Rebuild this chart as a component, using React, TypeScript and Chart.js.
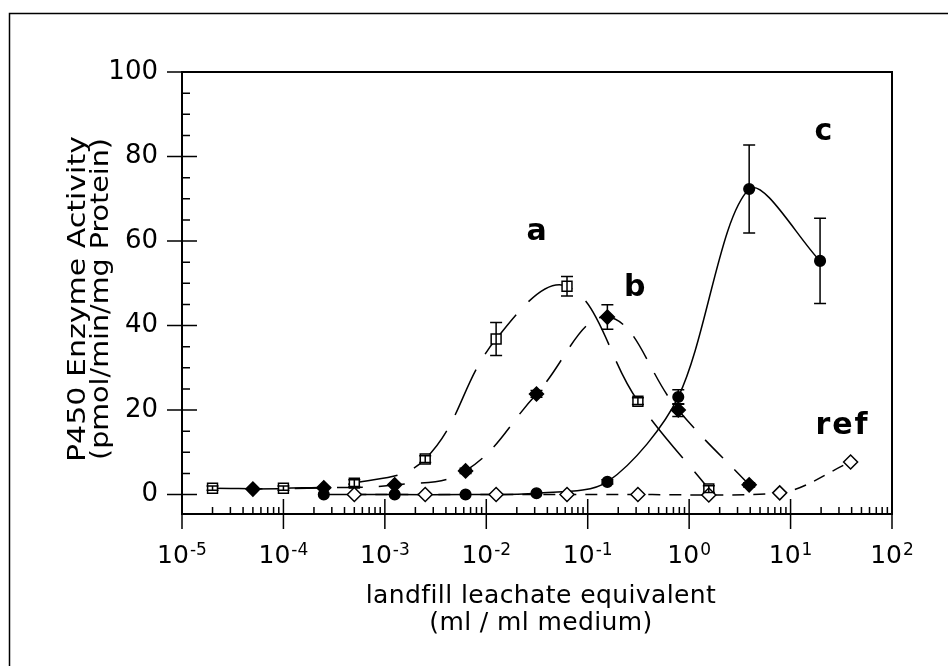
import React, { useEffect, useRef } from "react";
import { Chart, registerables } from "chart.js";

Chart.register(...registerables);

const FONT = "'DejaVu Sans', 'Liberation Sans', sans-serif";

// ---- data ----
const seriesNames = ["a", "b", "c", "ref"];

const aDose = [2e-5, 1e-4, 5e-4, 2.5e-3, 1.25e-2, 6.25e-2, 0.3125, 1.5625];
const aActivity = [1.5, 1.5, 2.7, 8.4, 36.8, 49.3, 22.1, 1.3];
const aError = [0.5, 0.5, 0.8, 0.8, 3.9, 2.3, 0.8, 0.8];

const bDose = [5e-5, 2.5e-4, 1.25e-3, 6.25e-3, 3.125e-2, 0.15625, 0.78125, 3.90625];
const bActivity = [1.3, 1.6, 2.3, 5.6, 23.8, 42.0, 20.0, 2.3];
const bError = [0, 0, 0, 0.6, 0.8, 2.9, 1.5, 0.5];

const cDose = [2.5e-4, 1.25e-3, 6.25e-3, 3.125e-2, 0.15625, 0.78125, 3.90625, 19.53125];
const cActivity = [0, 0, 0, 0.3, 3.0, 23.1, 72.3, 55.3];
const cError = [0, 0, 0, 0, 0.5, 1.7, 10.4, 10.1];

const refDose = [5e-4, 2.5e-3, 1.25e-2, 6.25e-2, 0.3125, 1.5625, 7.8125, 39.0625];
const refActivity = [0, 0, 0, 0, 0, -0.1, 0.4, 7.7];

// label anchors in data space (dose, activity)
const labelDose = [0.032, 0.297, 21.6, 32.5];
const labelActivity = [62.0, 48.9, 85.8, 16.2];

// ---- axes ----
const xTickValues = [1e-5, 1e-4, 1e-3, 1e-2, 1e-1, 1e0, 1e1, 1e2];
const xTickBase = "10";
const xTickExponents = ["-5", "-4", "-3", "-2", "-1", "0", "1", "2"];
const xMinorMultipliers = [2, 3, 4, 5, 6, 7, 8, 9];
const yTickValues = [0, 20, 40, 60, 80, 100];
const yMinorValues = [5, 10, 15, 25, 30, 35, 45, 50, 55, 65, 70, 75, 85, 90, 95];
const yTitleLines = ["P450 Enzyme Activity", "(pmol/min/mg Protein)"];
const xTitleLines = ["landfill leachate equivalent", "(ml / ml medium)"];

function toPoints(xs: number[], ys: number[]) {
  return xs.map((x, i) => ({ x, y: ys[i] }));
}

function setSpacing(ctx: any, v: string) {
  try {
    ctx.letterSpacing = v;
  } catch (e) {}
}

const axesPlugin = {
  id: "axesFrame",
  afterDraw(chart: any) {
    const { ctx, chartArea: ca, scales } = chart;
    const xs = scales.x;
    const ys = scales.y;
    ctx.save();
    ctx.strokeStyle = "#000";
    // outer frame
    ctx.lineWidth = 1.5;
    ctx.beginPath();
    ctx.moveTo(9.5, chart.height);
    ctx.lineTo(9.5, 13.5);
    ctx.lineTo(chart.width, 13.5);
    ctx.stroke();
    // plot box
    ctx.lineWidth = 2;
    ctx.strokeRect(ca.left, ca.top, ca.right - ca.left, ca.bottom - ca.top);
    // ticks
    ctx.lineWidth = 1.5;
    ctx.beginPath();
    yMinorValues.forEach((v) => {
      const py = ys.getPixelForValue(v);
      ctx.moveTo(ca.left, py);
      ctx.lineTo(ca.left + 8, py);
    });
    yTickValues.forEach((v) => {
      const py = ys.getPixelForValue(v);
      ctx.moveTo(ca.left - 15, py);
      ctx.lineTo(ca.left + 15, py);
    });
    xTickValues.forEach((v, i) => {
      const px = xs.getPixelForValue(v);
      ctx.moveTo(px, ca.bottom - 15);
      ctx.lineTo(px, ca.bottom + 15);
      if (i < xTickValues.length - 1) {
        xMinorMultipliers.forEach((m) => {
          const mx = xs.getPixelForValue(v * m);
          ctx.moveTo(mx, ca.bottom);
          ctx.lineTo(mx, ca.bottom - 7);
        });
      }
    });
    ctx.stroke();

    // x tick labels with superscript exponents
    ctx.fillStyle = "#000";
    ctx.textAlign = "left";
    ctx.textBaseline = "alphabetic";
    const baseFont = `25px ${FONT}`;
    const supFont = `17px ${FONT}`;
    const baseY = ca.bottom + 49;
    xTickValues.forEach((v, i) => {
      const px = xs.getPixelForValue(v);
      ctx.font = baseFont;
      const wb = ctx.measureText(xTickBase).width;
      ctx.font = supFont;
      const ws = ctx.measureText(xTickExponents[i]).width;
      const start = px - (wb + 1 + ws) / 2;
      ctx.font = baseFont;
      ctx.fillText(xTickBase, start, baseY);
      ctx.font = supFont;
      ctx.fillText(xTickExponents[i], start + wb + 1, baseY - 8);
    });

    // y axis title (two rotated, slightly stretched lines)
    ctx.font = `25px ${FONT}`;
    ctx.textAlign = "center";
    ctx.textBaseline = "alphabetic";
    const cy = (ca.top + ca.bottom) / 2 + 6;
    const yTitleBaselines = [85, 108];
    const yTitleLengths = [326, 322];
    yTitleLines.forEach((line, i) => {
      const w = ctx.measureText(line).width;
      ctx.save();
      ctx.translate(yTitleBaselines[i], cy);
      ctx.rotate(-Math.PI / 2);
      ctx.scale(yTitleLengths[i] / w, 1);
      ctx.fillText(line, 0, 0);
      ctx.restore();
    });

    // x axis title
    ctx.font = `25px ${FONT}`;
    setSpacing(ctx, "0.4px");
    const cx = (ca.left + ca.right) / 2 + 4;
    const xTitleBaselines = [603, 630];
    xTitleLines.forEach((line, i) => {
      ctx.fillText(line, cx, xTitleBaselines[i]);
    });

    // series labels
    ctx.font = `bold 30px ${FONT}`;
    ctx.textAlign = "center";
    ctx.textBaseline = "middle";
    setSpacing(ctx, "2px");
    seriesNames.forEach((n, i) => {
      ctx.fillText(n, xs.getPixelForValue(labelDose[i]), ys.getPixelForValue(labelActivity[i]));
    });
    setSpacing(ctx, "0px");
    ctx.restore();
  },
};

const errorBarPlugin = {
  id: "errorBars",
  afterDatasetsDraw(chart: any) {
    const { ctx, scales } = chart;
    const xs = scales.x;
    const ys = scales.y;
    ctx.save();
    ctx.strokeStyle = "#000";
    ctx.lineWidth = 1.5;
    chart.data.datasets.forEach((ds: any) => {
      const errs: number[] | undefined = ds.errors;
      if (!errs) return;
      ds.data.forEach((p: any, i: number) => {
        const e = errs[i];
        if (!e) return;
        const px = xs.getPixelForValue(p.x);
        const top = ys.getPixelForValue(p.y + e);
        const bot = ys.getPixelForValue(p.y - e);
        ctx.beginPath();
        ctx.moveTo(px, top);
        ctx.lineTo(px, bot);
        ctx.moveTo(px - 6, top);
        ctx.lineTo(px + 6, top);
        ctx.moveTo(px - 6, bot);
        ctx.lineTo(px + 6, bot);
        ctx.stroke();
      });
    });
    ctx.restore();
  },
};

export default function App() {
  const canvasRef = useRef<HTMLCanvasElement>(null);

  useEffect(() => {
    if (!canvasRef.current) return;
    const common = {
      borderColor: "#000",
      borderWidth: 1.5,
      pointBorderColor: "#000",
      pointBorderWidth: 1.5,
      fill: false,
      tension: 0.4,
    };
    const chart = new Chart(canvasRef.current, {
      type: "line",
      data: {
        datasets: [
          {
            ...common,
            label: seriesNames[3],
            data: toPoints(refDose, refActivity),
            borderDash: [12, 9],
            cubicInterpolationMode: "monotone",
            pointStyle: "rectRot",
            pointRadius: 7,
            pointBackgroundColor: "#fff",
          },
          {
            ...common,
            label: seriesNames[2],
            data: toPoints(cDose, cActivity),
            errors: cError,
            tension: 0.3,
            pointStyle: "circle",
            pointRadius: 5.3,
            pointBackgroundColor: "#000",
          },
          {
            ...common,
            label: seriesNames[1],
            data: toPoints(bDose, bActivity),
            errors: bError,
            borderDash: [26, 16],
            pointStyle: "rectRot",
            pointRadius: 7,
            pointBackgroundColor: "#000",
          },
          {
            ...common,
            label: seriesNames[0],
            data: toPoints(aDose, aActivity),
            errors: aError,
            borderDash: [50, 18],
            pointStyle: "rect",
            pointRadius: 7,
            pointBackgroundColor: "#fff",
          },
        ] as any,
      },
      options: {
        animation: false,
        responsive: false,
        devicePixelRatio: 1,
        layout: { padding: { left: 0, top: 72, right: 56, bottom: 0 } },
        plugins: {
          legend: { display: false },
          tooltip: { enabled: false },
        },
        scales: {
          x: {
            type: "logarithmic",
            min: 1e-5,
            max: 100,
            grid: { display: false, drawTicks: false },
            border: { display: false },
            afterBuildTicks: (s: any) => {
              s.ticks = xTickValues.map((v) => ({ value: v }));
            },
            afterFit: (s: any) => {
              s.height = 152;
            },
            ticks: { display: false },
            title: { display: false },
          },
          y: {
            type: "linear",
            min: -4.6,
            max: 100,
            grid: { display: false, drawTicks: false },
            border: { display: false },
            afterBuildTicks: (s: any) => {
              s.ticks = yTickValues.map((v) => ({ value: v }));
            },
            afterFit: (s: any) => {
              s.width = 182;
            },
            ticks: {
              padding: 24,
              color: "#000",
              font: { family: FONT, size: 26 },
              callback: (value: any) => String(value),
            },
            title: { display: false },
          },
        },
      } as any,
      plugins: [errorBarPlugin, axesPlugin],
    });
    return () => chart.destroy();
  }, []);

  return (
    <div
      style={{
        position: "absolute",
        left: 0,
        top: 0,
        width: 948,
        height: 666,
        background: "#fff",
      }}
    >
      <canvas
        ref={canvasRef}
        width={948}
        height={666}
        style={{ display: "block", width: 948, height: 666 }}
      />
    </div>
  );
}
